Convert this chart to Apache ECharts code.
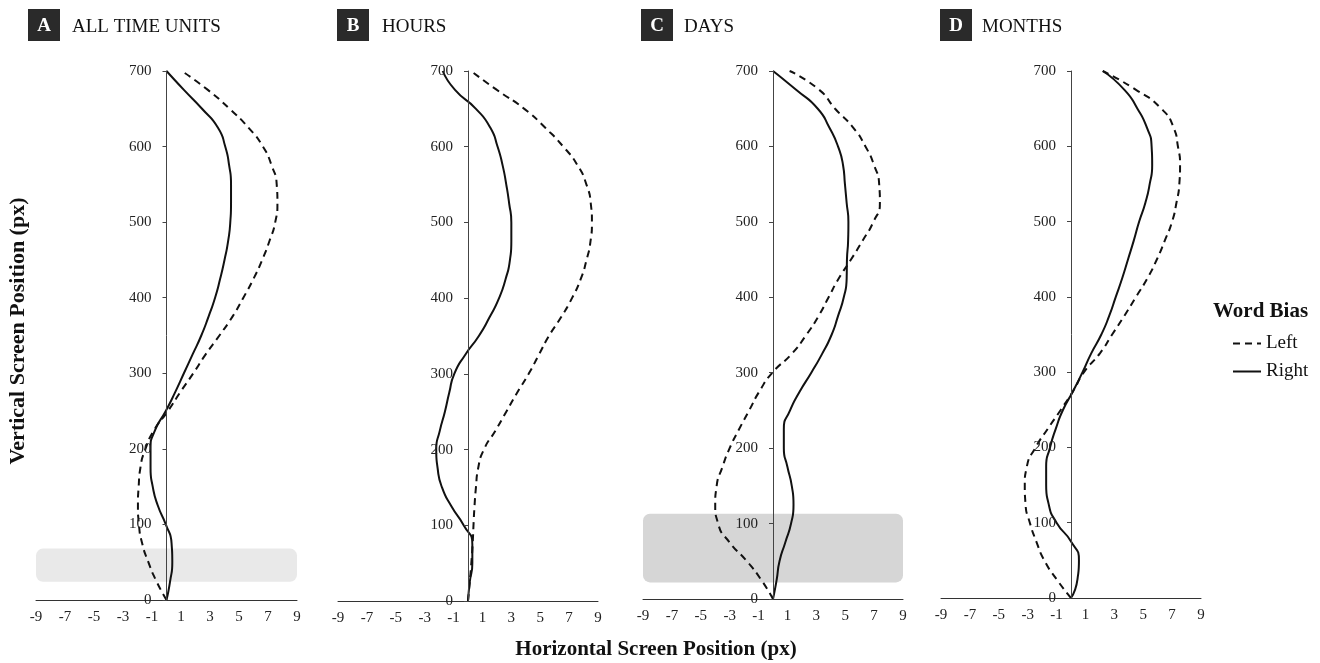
<!DOCTYPE html>
<html>
<head>
<meta charset="utf-8">
<script src="https://cdn.jsdelivr.net/npm/echarts@6/dist/echarts.min.js"></script>
<style>
html,body{margin:0;padding:0;background:#fff;}
#chart{width:1320px;height:663px;}
</style>
</head>
<body>
<div id="chart"></div>
<script>
// ---- data ----
const yLevels = [0,25,50,75,100,125,150,175,200,225,250,275,300,325,350,375,400,425,450,475,500,525,550,575,600,625,650,675,700];

// Panel A: all time units
const aLeft  = [0,-0.7,-1.25,-1.68,-1.9,-1.97,-1.92,-1.8,-1.45,-0.85,0.1,0.95,1.85,2.7,3.65,4.55,5.3,6.0,6.6,7.1,7.5,7.65,7.6,7.25,6.65,5.65,4.35,2.85,1.05];
const aRight = [0,0.25,0.4,0.35,-0.05,-0.6,-0.95,-1.1,-1.1,-0.78,-0.05,0.6,1.2,1.8,2.4,2.9,3.35,3.7,4.0,4.25,4.4,4.45,4.45,4.32,4.05,3.55,2.45,1.2,0];
// Panel B: hours
const bLeft  = [0,0.12,0.23,0.32,0.38,0.45,0.55,0.7,1.1,1.9,2.65,3.4,4.2,4.9,5.6,6.45,7.2,7.8,8.2,8.48,8.58,8.5,8.2,7.6,6.6,5.35,3.9,2.0,0.2];
const bRight = [0,0.12,0.3,0.3,-0.3,-1.15,-1.8,-2.1,-2.2,-1.95,-1.6,-1.3,-0.95,-0.2,0.75,1.5,2.15,2.6,2.9,3.0,3.0,2.85,2.65,2.4,2.05,1.55,0.55,-0.9,-1.75];
// Panel C: days
const cLeft  = [0,-0.8,-1.8,-3.0,-3.8,-4.0,-3.9,-3.5,-3.0,-2.35,-1.65,-0.95,-0.05,1.3,2.3,3.15,3.85,4.55,5.4,6.2,6.95,7.4,7.35,7.0,6.4,5.55,4.3,3.2,1.15];
const cRight = [0,0.25,0.45,0.85,1.25,1.42,1.3,1.0,0.75,0.75,1.18,1.85,2.65,3.4,4.05,4.5,4.9,5.1,5.12,5.2,5.22,5.1,4.98,4.85,4.5,3.9,3.1,1.6,0];
// Panel D: months
const dLeft  = [0,-1.0,-1.85,-2.4,-2.85,-3.15,-3.2,-3.05,-2.45,-1.6,-0.7,0.15,0.9,2.0,2.85,3.7,4.5,5.3,5.95,6.5,7.0,7.3,7.5,7.55,7.4,7.1,6.25,4.5,2.2];
const dRight = [0,0.45,0.55,0.0,-1.0,-1.55,-1.72,-1.72,-1.45,-1.05,-0.55,0.15,0.8,1.4,2.1,2.65,3.1,3.55,3.95,4.35,4.72,5.15,5.45,5.62,5.58,5.25,4.6,3.7,2.2];

// shaded bands: [xMin, xMax, yMin, yMax]
const bandA = [-9, 9, 24, 68];
const bandC = [-9, 9, 22, 113];

const panelLetters = ['A','B','C','D'];
const panelTitles  = ['ALL TIME UNITS','HOURS','DAYS','MONTHS'];
const seriesNames  = ['Left','Right'];
const xTicksMin = -9, xTicksMax = 9, xTickStep = 2;
const yMin = 0, yMax = 700, yStep = 100;
const yAxisTitle = 'Vertical Screen Position (px)';
const xAxisTitle = 'Horizontal Screen Position (px)';
const legendTitle = 'Word Bias';

// ---- layout / style ----
const FONT = "'Liberation Serif','Times New Roman',serif";
const grids = [
  {left:36,  top:71, width:261, height:529},
  {left:338, top:71, width:260, height:530},
  {left:643, top:71, width:260, height:528},
  {left:941, top:71, width:260, height:527}
];
const titlePos = [
  {box:28,  text:72},
  {box:337, text:382},
  {box:641, text:684},
  {box:940, text:982}
];
const leftSets  = [aLeft, bLeft, cLeft, dLeft];
const rightSets = [aRight, bRight, cRight, dRight];
const bands = [bandA, null, bandC, null];
const bandColors = ['#e9e9e9', null, '#d6d6d6', null];

function pairs(xs){ return xs.map((x,i)=>[x, yLevels[i]]); }

const xAxes = [], yAxes = [], series = [];
grids.forEach((g,i)=>{
  xAxes.push({
    type:'value', gridIndex:i, min:xTicksMin, max:xTicksMax, interval:xTickStep,
    axisLine:{show:true, onZero:false, lineStyle:{color:'#333', width:1}},
    axisTick:{show:false}, splitLine:{show:false},
    axisLabel:{fontFamily:FONT, fontSize:15, color:'#222', margin:10}
  });
  yAxes.push({
    type:'value', gridIndex:i, min:yMin, max:yMax, interval:yStep, z:5,
    position:'left', offset:-g.width/2,
    axisLine:{show:true, onZero:false, lineStyle:{color:'#444', width:1}},
    axisTick:{show:true, length:4, lineStyle:{color:'#444'}},
    splitLine:{show:false},
    axisLabel:{fontFamily:FONT, fontSize:15, color:'#222', margin:15}
  });
  if (bands[i]) {
    series.push({
      type:'custom', xAxisIndex:i, yAxisIndex:i, z:1, silent:true,
      data:[bands[i]],
      encode:{x:[0,1], y:[2,3]},
      renderItem:(params, api)=>{
        const p1 = api.coord([api.value(0), api.value(3)]);
        const p2 = api.coord([api.value(1), api.value(2)]);
        return {type:'rect', shape:{x:p1[0], y:p1[1], width:p2[0]-p1[0], height:p2[1]-p1[1], r:7},
                style:{fill:bandColors[i]}};
      }
    });
  }
  series.push({
    name:seriesNames[0], type:'line', xAxisIndex:i, yAxisIndex:i, z:3,
    data:pairs(leftSets[i]), smooth:0.6, symbol:'none', showSymbol:false,
    lineStyle:{color:'#111', width:2, type:[7,5]}, itemStyle:{color:'#111'}
  });
  series.push({
    name:seriesNames[1], type:'line', xAxisIndex:i, yAxisIndex:i, z:3,
    data:pairs(rightSets[i]), smooth:0.6, symbol:'none', showSymbol:false,
    lineStyle:{color:'#111', width:2, type:'solid'}, itemStyle:{color:'#111'}
  });
});

const graphics = [];
titlePos.forEach((p,i)=>{
  graphics.push({type:'rect', left:p.box, top:9, shape:{width:32, height:32}, style:{fill:'#2a2a2a'}});
  graphics.push({type:'text', x:p.box+16, y:26, style:{text:panelLetters[i], fill:'#fff', font:"bold 19px "+FONT, align:'center', verticalAlign:'middle'}});
  graphics.push({type:'text', x:p.text, y:27, style:{text:panelTitles[i], fill:'#111', font:"19px "+FONT, align:'left', verticalAlign:'middle'}});
});
graphics.push({type:'text', x:18, y:331, rotation:Math.PI/2,
  style:{text:yAxisTitle, fill:'#111', font:"bold 22px "+FONT, align:'center', verticalAlign:'middle'}});
graphics.push({type:'text', x:656, y:650,
  style:{text:xAxisTitle, fill:'#111', font:"bold 21px "+FONT, align:'center', verticalAlign:'middle'}});
graphics.push({type:'text', x:1213, y:312,
  style:{text:legendTitle, fill:'#111', font:"bold 21px "+FONT, align:'left', verticalAlign:'middle'}});

const chart = echarts.init(document.getElementById('chart'), null, {renderer:'canvas'});
chart.setOption({
  animation:false,
  backgroundColor:'#fff',
  grid:grids,
  xAxis:xAxes,
  yAxis:yAxes,
  series:series,
  legend:{
    data:seriesNames, orient:'vertical', left:1232, top:334, padding:0,
    itemWidth:28, itemHeight:12, itemGap:9,
    itemStyle:{color:'rgba(0,0,0,0)', borderWidth:0, opacity:0},
    textStyle:{fontFamily:FONT, fontSize:19, color:'#111'}
  },
  graphic:graphics
});
</script>
</body>
</html>
